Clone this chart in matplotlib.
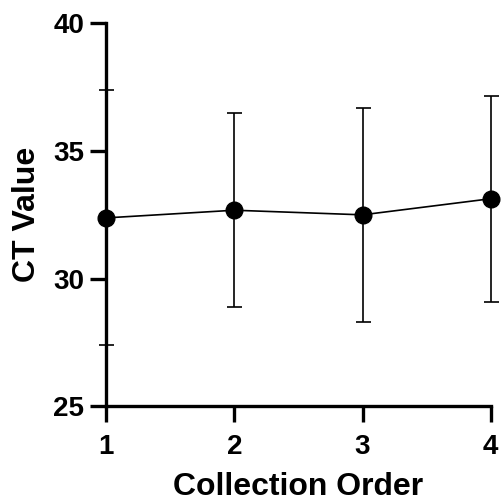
import numpy as np
import matplotlib
matplotlib.use("Agg")
import matplotlib.pyplot as plt

plt.rcParams['font.family'] = ['Liberation Sans', 'DejaVu Sans']
plt.rcParams['font.weight'] = 'bold'

order = [1, 2, 3, 4]
ct_mean = [32.37, 32.67, 32.49, 33.12]
ct_sd = [4.98, 3.80, 4.18, 4.03]

fig = plt.figure(figsize=(5.01, 5.04), dpi=100)
ax = fig.add_axes([0.2116, 0.1935, 0.768, 0.7615])

ax.errorbar(order, ct_mean, yerr=ct_sd, color='black', lw=1.2, elinewidth=1.2,
            capsize=5.4, capthick=1.2, marker='o', markersize=12, clip_on=False, zorder=3)

ax.set_xlim(1, 4)
ax.set_ylim(25, 40)
ax.set_xticks(order)
ax.set_yticks([25, 30, 35, 40])

for side in ['top', 'right']:
    ax.spines[side].set_visible(False)
for side in ['left', 'bottom']:
    ax.spines[side].set_linewidth(2.4)
    ax.spines[side].set_zorder(2)

ax.tick_params(axis='both', length=11.5, width=2.4, labelsize=20)
ax.tick_params(axis='x', pad=8)
ax.tick_params(axis='y', pad=4)

ax.set_xlabel("Collection Order", fontsize=23, fontweight='bold', labelpad=9)
ax.set_ylabel("CT Value", fontsize=23, fontweight='bold', labelpad=8)

fig.savefig("out.png", dpi=100)
